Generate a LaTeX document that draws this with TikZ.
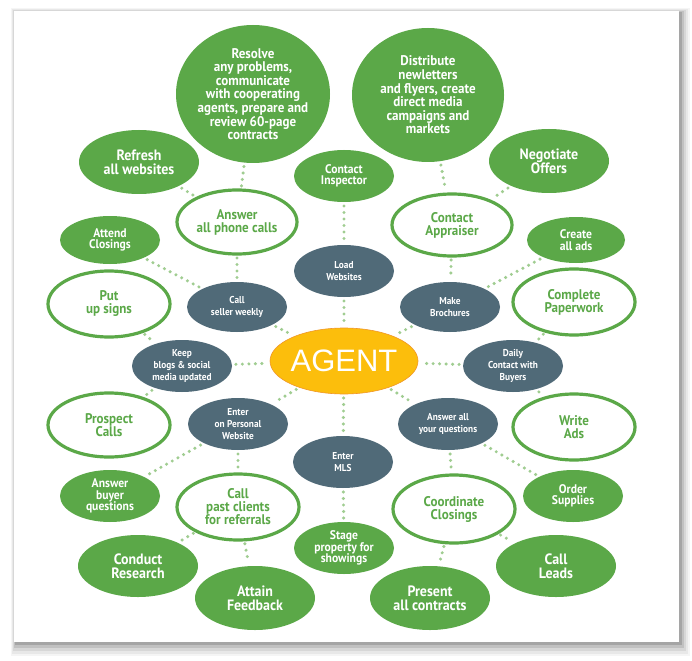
\documentclass[tikz,border=0pt]{standalone}
\usepackage{fontspec}
\setmainfont{PT Sans}
\newfontfamily\nodefont{PT Sans}[FakeStretch=0.93]
\newfontfamily\agentfont{Liberation Sans}
\usetikzlibrary{shapes.geometric}
\definecolor{G}{RGB}{91,168,72}
\definecolor{S}{RGB}{80,106,120}
\definecolor{Y}{RGB}{252,190,12}
\definecolor{O}{RGB}{240,150,40}
\definecolor{D}{RGB}{160,205,145}
\tikzset{
  gfill/.style={ellipse, fill=G, inner sep=0pt, outer sep=0pt},
  gring/.style={ellipse, draw=G, line width=3.2pt, fill=white, inner sep=0pt, outer sep=0pt},
  slate/.style={ellipse, fill=S, inner sep=0pt, outer sep=0pt},
  agentbox/.style={ellipse, fill=Y, draw=O, line width=0.6pt, inner sep=0pt, outer sep=0pt},
  tbig/.style={align=center, text=white, inner sep=0pt, font=\nodefont\bfseries\fontsize{14}{13.6}\selectfont},
  tmed/.style={align=center, text=white, inner sep=0pt, font=\nodefont\bfseries\fontsize{15}{14}\selectfont},
  tsml/.style={align=center, text=white, inner sep=0pt, font=\nodefont\bfseries\fontsize{12.5}{11.5}\selectfont},
  tring/.style={align=center, text=G, inner sep=0pt, font=\nodefont\bfseries\fontsize{14}{13}\selectfont},
  tslate/.style={align=center, text=white, inner sep=0pt, font=\nodefont\bfseries\fontsize{10}{11.8}\selectfont},
  tagent/.style={text=white, inner sep=0pt, font=\agentfont\fontsize{31}{31}\selectfont},
  con/.style={draw=D, line width=3.4pt, line cap=round, dash pattern=on 0pt off 6.5pt, shorten >=4pt, shorten <=4pt},
}
\newcommand\bub[8]{%
  \node[#1, minimum width=#6pt, minimum height=#7pt] (#3) at (#4,#5) {};
  \node[#2] (#3t) at (#3) {#8};}
\begin{document}
\begin{tikzpicture}[x=1pt,y=-1pt]
\useasboundingbox (0,0) rectangle (692,660);
\fill[white] (0,0) rectangle (692,660);
% frame shadow
\fill[black, opacity=0.04] (11,8) rectangle (690,656);
\fill[black, opacity=0.05] (12,9) rectangle (688,654);
\fill[black, opacity=0.07] (13,10) rectangle (686,651);
\fill[black, opacity=0.10] (14,11) rectangle (684,648);
\fill[black, opacity=0.14] (15,12) rectangle (682,645);
\fill[white] (14,11) rectangle (679,642);
% nodes
\bub{gfill}{tbig}{res}{253}{94}{154}{138}{Resolve\\any problems,\\communicate\\with cooperating\\agents, prepare and\\review 60-page\\contracts}
\bub{gfill}{tbig}{dis}{428}{95}{152}{134}{Distribute\\newletters\\and flyers, create\\direct media\\campaigns and\\markets}
\bub{gfill}{tmed}{ref}{139}{162}{120}{64}{Refresh\\all websites}
\bub{gfill}{tsml}{ins}{344}{176}{100}{52}{Contact\\Inspector}
\bub{gfill}{tmed}{neg}{549}{161}{120}{64}{Negotiate\\Offers}
\bub{gring}{tring}{aph}{237}{222}{120}{64}{Answer\\all phone calls}
\bub{gring}{tring}{app}{452}{225}{120}{62}{Contact\\Appraiser}
\bub{gfill}{tsml}{att}{110}{240}{100}{48}{Attend\\Closings}
\bub{gfill}{tsml}{cad}{576}{240}{98}{46}{Create\\all ads}
\bub{slate}{tslate}{lw}{344}{271}{100}{52}{Load\\Websites}
\bub{gring}{tring}{pus}{109}{304}{122}{66}{Put\\up signs}
\bub{slate}{tslate}{csw}{237}{307}{100}{50}{Call\\seller weekly}
\bub{slate}{tslate}{mb}{450}{307}{100}{50}{Make\\Brochures}
\bub{gring}{tring}{cp}{574}{302}{122}{66}{Complete\\Paperwork}
\bub{slate}{tslate}{kb}{182}{366}{100}{52}{Keep\\blogs \& social\\media updated}
\bub{agentbox}{tagent}{ag}{344}{361}{148}{66}{AGENT}
\bub{slate}{tslate}{dc}{513}{366}{100}{52}{Daily\\Contact with\\Buyers}
\bub{gring}{tring}{pc}{109}{425}{122}{64}{Prospect\\Calls}
\bub{slate}{tslate}{ep}{238}{424}{100}{52}{Enter\\on Personal\\Website}
\bub{slate}{tslate}{aq}{448}{424}{100}{52}{Answer all\\your questions}
\bub{gring}{tring}{wa}{574}{427}{122}{66}{Write\\Ads}
\bub{slate}{tslate}{mls}{343}{462}{100}{52}{Enter\\MLS}
\bub{gfill}{tsml}{abq}{110}{496}{100}{52}{Answer\\buyer\\questions}
\bub{gring}{tring}{cpc}{238}{507}{122}{66}{Call\\past clients\\for referrals}
\bub{gring}{tring}{cc}{454}{509}{122}{68}{Coordinate\\Closings}
\bub{gfill}{tsml}{os}{573}{496}{100}{52}{Order\\Supplies}
\bub{gfill}{tsml}{sp}{344}{548}{100}{52}{Stage\\property for\\showings}
\bub{gfill}{tmed}{cr}{138}{566}{120}{62}{Conduct\\Research}
\bub{gfill}{tmed}{af}{255}{598}{120}{64}{Attain\\Feedback}
\bub{gfill}{tmed}{pac}{430}{598}{120}{64}{Present\\all contracts}
\bub{gfill}{tmed}{cl}{556}{566}{120}{62}{Call\\Leads}
% connectors
\foreach \a/\b in {res/aph, dis/app, ref/aph, neg/app, ins/lw, lw/ag, aph/csw, app/mb,
  att/csw, cad/mb, csw/ag, mb/ag, pus/kb, cp/dc, kb/ag, dc/ag, kb/pc, dc/wa, ag/ep, ag/aq,
  ag/mls, mls/sp, ep/cpc, ep/abq, aq/cc, aq/os, cpc/cr, cpc/af, cc/cl, cc/pac}
  \draw[con] (\a) -- (\b);
\end{tikzpicture}
\end{document}
